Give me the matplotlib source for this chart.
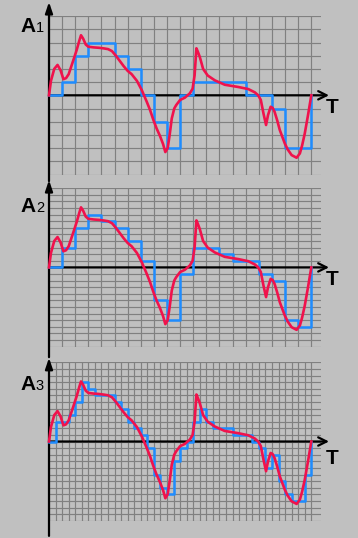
import numpy as np
import matplotlib.pyplot as plt

plt.rcParams['font.family'] = ['Liberation Sans', 'DejaVu Sans']

# Original waveform (1 unit = one big grid square)
wave_t = [0, 0.15, 0.4, 0.65, 0.88, 1.1, 1.3, 1.5, 1.86, 2.11, 2.3, 2.44, 2.6, 2.8,
          3.0, 3.4, 3.8, 4.2, 4.5, 4.8, 5.1, 5.4, 5.7, 6.0, 6.3, 6.7, 7.07, 7.45, 7.7,
          7.96, 8.2, 8.47, 8.7, 8.87, 9.05, 9.2, 9.36, 9.55, 9.7, 10.0, 10.36, 10.74,
          10.95, 11.1, 11.24, 11.35, 11.5, 11.75, 12.1, 12.65, 13.4, 14.43, 15.2, 15.7,
          15.95, 16.15, 16.35, 16.55, 16.7, 16.9, 17.05, 17.2, 17.4, 17.6, 17.98, 18.2,
          18.5, 18.88, 19.13, 19.3, 19.5, 19.75, 20.0]
wave_a = [0, 1.1, 2.0, 2.3, 1.9, 1.22, 1.3, 1.6, 2.67, 3.43, 4.1, 4.55, 4.3, 3.85,
          3.68, 3.63, 3.6, 3.55, 3.5, 3.35, 3.0, 2.6, 2.2, 1.85, 1.6, 1.1, 0.4, -0.48, -1.1,
          -1.87, -2.5, -3.1, -3.7, -4.3, -4.0, -3.0, -1.76, -1.0, -0.74, -0.35, -0.18, 0.15,
          0.5, 1.5, 3.56, 3.3, 2.9, 2.0, 1.5, 1.13, 0.8, 0.63, 0.47, 0.22,
          0.0, -0.35, -1.36, -2.25, -1.5, -0.87, -0.95, -1.25, -1.9, -2.64, -3.65, -4.1,
          -4.53, -4.73, -4.4, -3.8, -2.9, -1.5, 0]

# Sampled and quantised values (held until the next sample)
steps1 = [0, 1, 3, 4, 4, 3, 2, 0, -2, -4, 0, 1, 1, 1, 1, 0, 0, -1, -4, -4]
steps2 = [0, 1.5, 3, 4, 3.5, 3, 2, 0.5, -2.5, -4, -0.5, 1.5, 1.5, 1, 0.5, 0.5,
          -0.5, -1, -4, -4.5]
steps3 = [0, 1.5, 1.5, 2, 3, 4.5, 4, 3.5, 3.5, 3.5, 3, 2.5, 1.5, 1, 0.5, -0.5,
          -2.5, -3.5, -4, -1.5, -0.5, 0, 1.5, 2.5, 1.5, 1, 1, 1, 0.5, 0.5,
          0.5, 0, -0.5, -2, -1, -3, -4, -4.5, -4.5, -2.5]

panels = [
    # steps, sample period, level step, label
    (steps1, 1.0, 1.0, "1"),
    (steps2, 1.0, 0.5, "2"),
    (steps3, 0.5, 0.5, "3"),
]

# layout in pixels
W, H = 358, 538
ux, uy = 13.115, 13.2
grid_left = 49
grid_w = 272
tops = [16.1, 188.2, 362.3]
tips = [7.07, 6.62, 6.34]
bottoms = [-6.5, -6.8, -7.15]
label_y = [4.82, 4.22, 3.92]
t_y = [-1.36, -1.33, -1.71]

bg = '#c0c0c0'
gridc = '#808080'
red = '#f0124c'
blue = '#1e8cff'

fig = plt.figure(figsize=(W / 100, H / 100), dpi=100)
fig.patch.set_facecolor(bg)

for i, (steps, dt, dq, lab) in enumerate(panels):
    ax = fig.add_axes([grid_left / W, 1 - (tops[i] + 12 * uy) / H,
                       grid_w / W, 12 * uy / H])
    ax.set_facecolor(bg)
    ax.set_xlim(0, grid_w / ux)
    ax.set_ylim(-6, 6)
    for s in ax.spines.values():
        s.set_visible(False)
    xstep = 0.5 if dt < 1 else 1.0
    ax.set_xticks(np.arange(0, 20 + 1e-9, xstep))
    ax.set_yticks(np.arange(-6, 6 + 1e-9, dq))
    ax.tick_params(length=0, labelbottom=False, labelleft=False)
    ax.grid(True, color=gridc, lw=0.85)
    ax.set_axisbelow(True)

    # axes with arrows
    ax.annotate('', xy=(21.35, 0), xytext=(0, 0), annotation_clip=False,
                arrowprops=dict(arrowstyle='->,head_length=0.6,head_width=0.3',
                                color='black', lw=1.6, shrinkA=0, shrinkB=0))
    ax.annotate('', xy=(0, tips[i]), xytext=(0, bottoms[i]), annotation_clip=False,
                arrowprops=dict(arrowstyle='-|>,head_length=0.65,head_width=0.22',
                                color='black', lw=1.6, shrinkA=0, shrinkB=0))

    # sample and hold
    t = np.arange(len(steps)) * dt
    ax.step(np.append(t, [20, 20]), np.append(steps, [steps[-1], 0]),
            where='post', color=blue, lw=1.8, clip_on=False, zorder=3)
    ax.plot(wave_t, wave_a, color=red, lw=1.9, clip_on=False, zorder=4)

    ax.text(-2.2, label_y[i], "A", fontsize=15, fontweight='bold',
            va='baseline', ha='left', clip_on=False)
    ax.text(-1.0, label_y[i], lab, fontsize=10.5, va='baseline', ha='left',
            clip_on=False)
    ax.text(21.12, t_y[i], "T", fontsize=15, fontweight='bold',
            va='baseline', ha='left', clip_on=False)

fig.savefig('out.png', dpi=100, facecolor=bg)
